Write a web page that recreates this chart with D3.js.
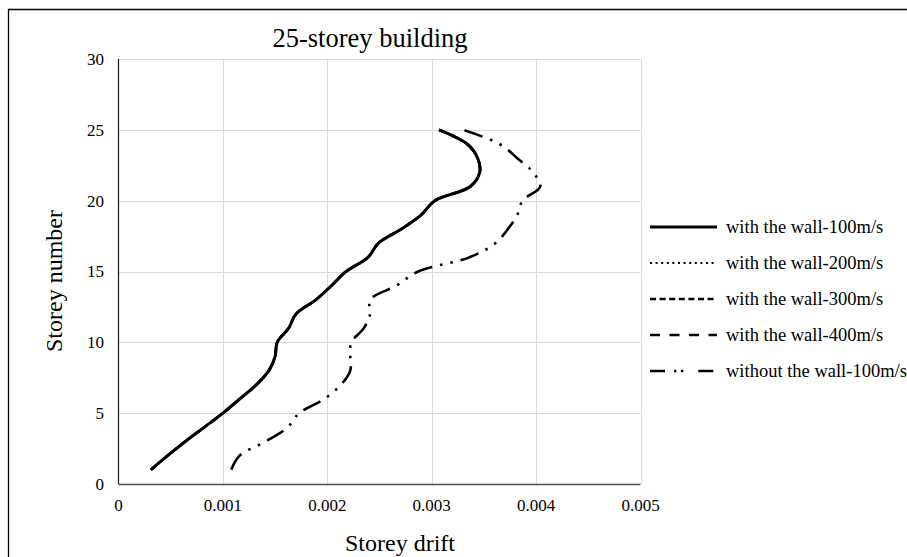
<!DOCTYPE html>
<html>
<head>
<meta charset="utf-8">
<script src="https://cdn.jsdelivr.net/npm/d3@7"></script>
<style>
  html, body { margin: 0; padding: 0; background: #fff; }
  svg { display: block; }
  text { font-family: "Liberation Serif", "Times New Roman", serif; fill: #000; }
</style>
</head>
<body>
<svg id="chart" width="907" height="557"></svg>
<script>
// Storey numbers 1..25
const storeys = d3.range(1, 26);

// Inter-storey drift per storey
const wall100 = [0.00031, 0.00047, 0.00064, 0.00082, 0.00100, 0.00116, 0.00132, 0.00144, 0.00150, 0.00152,
                 0.00163, 0.00170, 0.00189, 0.00204, 0.00218, 0.00239, 0.00249, 0.00271, 0.00290, 0.00303,
                 0.00337, 0.00346, 0.00344, 0.00334, 0.00307];
// The 200/300/400 m/s runs coincide with the 100 m/s run
const wall200 = wall100;
const wall300 = wall100;
const wall400 = wall100;
const noWall100 = [0.00108, 0.00116, 0.00141, 0.00162, 0.00173, 0.00197, 0.00213, 0.00222, 0.00222, 0.00223,
                   0.00235, 0.00241, 0.00241, 0.00266, 0.00287, 0.00336, 0.00361, 0.00373, 0.00382, 0.00387,
                   0.00404, 0.00397, 0.00382, 0.00365, 0.00330];

const seriesNames = ["with the wall-100m/s", "with the wall-200m/s", "with the wall-300m/s",
                     "with the wall-400m/s", "without the wall-100m/s"];
const seriesValues = [wall100, wall200, wall300, wall400, noWall100];

const xTicks = [0, 0.001, 0.002, 0.003, 0.004, 0.005];
const xTickLabels = ["0", "0.001", "0.002", "0.003", "0.004", "0.005"];
const yTicks = [0, 5, 10, 15, 20, 25, 30];

const titleText = "25-storey building";
const xTitle = "Storey drift";
const yTitle = "Storey number";

// line styles per series
const styles = [
  { width: 3,   dash: null,                  legendDash: null },
  { width: 2,   dash: "2 3.6",               legendDash: "2 3.6" },
  { width: 2.4, dash: "6 3.5",               legendDash: "6 3.6" },
  { width: 2.6, dash: "10 9",                legendDash: "10 9.5" },
  { width: 2.6, dash: "19 8 2.5 8 2.5 8",    legendDash: "15 9 2.4 4.5 2.4 15" }
];

const svg = d3.select("#chart");

const x = d3.scaleLinear().domain([0, 0.005]).range([118.5, 640.5]);
const y = d3.scaleLinear().domain([0, 30]).range([484, 59]);

// outer frame
svg.append("path")
  .attr("d", "M8.5,557 V9.5 H907")
  .attr("fill", "none").attr("stroke", "#000").attr("stroke-width", 1.3);

// gridlines
const grid = svg.append("g");
grid.selectAll("line.h").data(yTicks.filter(d => d > 0)).join("line")
  .attr("x1", x(0)).attr("x2", x(0.005))
  .attr("y1", d => Math.round(y(d)) + 0.5).attr("y2", d => Math.round(y(d)) + 0.5)
  .attr("stroke", "#d9d9d9").attr("stroke-width", 1);
grid.selectAll("line.v").data(xTicks.filter(d => d > 0)).join("line")
  .attr("y1", y(0)).attr("y2", y(30))
  .attr("x1", d => Math.round(x(d)) + 0.5).attr("x2", d => Math.round(x(d)) + 0.5)
  .attr("stroke", "#d9d9d9").attr("stroke-width", 1);

// axes lines
svg.append("line")
  .attr("x1", 118.5).attr("x2", 118.5).attr("y1", y(30)).attr("y2", y(0))
  .attr("stroke", "#1a1a1a").attr("stroke-width", 1.2);
svg.append("line")
  .attr("x1", x(0)).attr("x2", x(0.005)).attr("y1", 484.5).attr("y2", 484.5)
  .attr("stroke", "#4d4d4d").attr("stroke-width", 1.4);

// tick labels
svg.append("g").selectAll("text").data(yTicks).join("text")
  .attr("x", 104).attr("y", d => y(d)).attr("dy", "0.35em")
  .attr("text-anchor", "end").attr("font-size", 17).text(d => d);
svg.append("g").selectAll("text").data(xTicks).join("text")
  .attr("x", d => x(d)).attr("y", 511)
  .attr("text-anchor", "middle").attr("font-size", 17)
  .text((d, i) => xTickLabels[i]);

// titles
svg.append("text").attr("x", 370).attr("y", 47).attr("text-anchor", "middle")
  .attr("font-size", 26.5).text(titleText);
svg.append("text").attr("x", 400).attr("y", 551).attr("text-anchor", "middle")
  .attr("font-size", 24).text(xTitle);
svg.append("text").attr("transform", "translate(62,281) rotate(-90)").attr("text-anchor", "middle")
  .attr("font-size", 24).text(yTitle);

// curves
const line = d3.line()
  .x(d => x(d[0])).y(d => y(d[1]))
  .curve(d3.curveCatmullRom.alpha(0.5));

const plot = svg.append("g");
// draw the coincident wall runs first so the solid line sits on top
[3, 2, 1, 0, 4].forEach(i => {
  const pts = seriesValues[i].map((v, k) => [v, storeys[k]]);
  plot.append("path")
    .attr("d", line(pts))
    .attr("fill", "none").attr("stroke", "#000")
    .attr("stroke-width", styles[i].width)
    .attr("stroke-dasharray", styles[i].dash)
    .attr("stroke-linejoin", "round");
});

// legend
const legend = svg.append("g");
const legendY = [227, 263, 299, 335, 371];
seriesNames.forEach((name, i) => {
  legend.append("line")
    .attr("x1", 650).attr("x2", 717).attr("y1", legendY[i]).attr("y2", legendY[i])
    .attr("stroke", "#000").attr("stroke-width", styles[i].width)
    .attr("stroke-dasharray", styles[i].legendDash);
  legend.append("text")
    .attr("x", 726).attr("y", legendY[i]).attr("dy", "0.33em")
    .attr("font-size", 18.5).text(name);
});
</script>
</body>
</html>
